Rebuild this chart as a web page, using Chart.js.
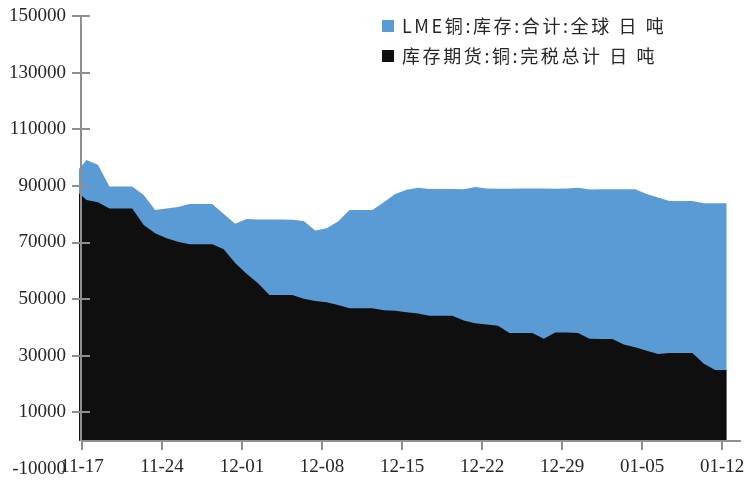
<!DOCTYPE html>
<html>
<head>
<meta charset="utf-8">
<script src="https://cdn.jsdelivr.net/npm/chart.js@4.4.1/dist/chart.umd.min.js"></script>
<style>
  body { margin: 0; background: #fff; }
  #wrap { width: 753px; height: 482px; }
</style>
</head>
<body>
<div id="wrap"><canvas id="stockChart" width="753" height="482"></canvas></div>
<script>
const dates = [
  '11-16', '11-17', '11-18', '11-19', '11-20', '11-21', '11-22', '11-23', '11-24', '11-25',
  '11-26', '11-27', '11-28', '11-29', '11-30',
  '12-01', '12-02', '12-03', '12-04', '12-05', '12-06', '12-07', '12-08', '12-09', '12-10',
  '12-11', '12-12', '12-13', '12-14', '12-15', '12-16', '12-17', '12-18', '12-19', '12-20',
  '12-21', '12-22', '12-23', '12-24', '12-25', '12-26', '12-27', '12-28', '12-29', '12-30', '12-31',
  '01-01', '01-02', '01-03', '01-04', '01-05', '01-06', '01-07', '01-08', '01-09', '01-10',
  '01-11', '01-12'
];

// LME铜 库存 合计 全球 (吨)
const lmeStock = [
  94300, 99150, 97500, 89750, 89750, 89750, 86800, 81500, 82000, 82500,
  83600, 83600, 83600, 80100, 76600,
  78300, 78100, 78100, 78100, 78000, 77600, 74200, 75000, 77400, 81500,
  81500, 81500, 84200, 87100, 88600, 89300, 88900, 88900, 88900, 88800,
  89600, 89100, 89000, 89000, 89100, 89100, 89100, 89000, 89100, 89300, 88700,
  88800, 88800, 88800, 88800, 87100, 85900, 84700, 84700, 84700, 83900,
  83900, 83900
];

// 库存期货 铜 完税总计 (吨)
const shfeStock = [
  88600, 85050, 84240, 82000, 82000, 82000, 76200, 73300, 71500, 70300,
  69400, 69400, 69400, 67650, 62800,
  59000, 55600, 51500, 51500, 51500, 50100, 49300, 48900, 47900, 46800,
  46800, 46800, 46100, 45900, 45400, 44900, 44100, 44100, 44100, 42450,
  41500, 41050, 40600, 38000, 38000, 38000, 36000, 38200, 38200, 38000, 36000,
  35900, 35900, 34000, 33000, 31800, 30600, 30950, 30950, 30950, 27200,
  25000, 25000
];

const xTickLabels = ['11-17', '11-24', '12-01', '12-08', '12-15', '12-22', '12-29', '01-05', '01-12'];
const yTicks = [-10000, 10000, 30000, 50000, 70000, 90000, 110000, 130000, 150000];

const seriesNames = ['LME铜:库存:合计:全球 日 吨', '库存期货:铜:完税总计 日 吨'];
const seriesColors = ['#5b9bd5', '#0f0f0f'];

// x is days counted from 11-17; each reading is plotted a little after its day mark
const SHIFT = 0.4;
const firstDay = -1; // dates[0] is the day before 11-17
const toPoints = vals => vals.map((v, i) => ({ x: firstDay + i + SHIFT, y: v }));

const axisColor = '#8f8f8f';
const textColor = '#262626';
const tickFont = '19px "Liberation Serif", "DejaVu Serif", serif';

const axesPlugin = {
  id: 'axes',
  afterDraw(chart) {
    const ctx = chart.ctx;
    const xs = chart.scales.x, ys = chart.scales.y;
    const ax = Math.round(xs.getPixelForValue(0)) - 1;
    const ay = Math.round(ys.getPixelForValue(0));
    const right = chart.chartArea.right;

    ctx.save();
    ctx.strokeStyle = axisColor;
    ctx.lineWidth = 2;
    ctx.beginPath();
    // vertical axis
    ctx.moveTo(ax, Math.round(ys.getPixelForValue(150000)));
    ctx.lineTo(ax, ay);
    // horizontal axis along zero
    ctx.moveTo(ax, ay);
    ctx.lineTo(right, ay);
    // y ticks cross the axis
    yTicks.forEach(v => {
      if (v <= 0) return;
      const py = Math.round(ys.getPixelForValue(v));
      ctx.moveTo(ax - 9, py);
      ctx.lineTo(ax + 9, py);
    });
    // x ticks hang below the axis
    xTickLabels.forEach((lab, k) => {
      const px = Math.round(xs.getPixelForValue(k * 7));
      ctx.moveTo(px, ay);
      ctx.lineTo(px, ay + 9);
    });
    ctx.stroke();

    ctx.fillStyle = textColor;
    ctx.font = tickFont;
    ctx.textAlign = 'right';
    ctx.textBaseline = 'middle';
    yTicks.forEach(v => {
      ctx.fillText(String(v), 66, ys.getPixelForValue(v));
    });
    ctx.textAlign = 'center';
    xTickLabels.forEach((lab, k) => {
      ctx.fillText(lab, xs.getPixelForValue(k * 7), ay + 26);
    });
    ctx.restore();
  }
};

const legendPlugin = {
  id: 'boxLegend',
  afterDraw(chart) {
    const ctx = chart.ctx;
    ctx.save();
    ctx.font = '18px "Noto Sans CJK SC"';
    ctx.letterSpacing = '2.6px';
    ctx.textBaseline = 'middle';
    ctx.textAlign = 'left';
    seriesNames.forEach((name, i) => {
      const top = 20 + i * 30;
      ctx.fillStyle = seriesColors[i];
      ctx.fillRect(382, top, 12, 12);
      ctx.fillStyle = textColor;
      ctx.fillText(name, 402, top + 6);
    });
    ctx.restore();
  }
};

new Chart(document.getElementById('stockChart'), {
  type: 'line',
  data: {
    datasets: [
      {
        label: seriesNames[1],
        data: toPoints(shfeStock),
        backgroundColor: seriesColors[1],
        borderColor: 'rgba(0,0,0,0)',
        fill: 'origin'
      },
      {
        label: seriesNames[0],
        data: toPoints(lmeStock),
        backgroundColor: seriesColors[0],
        borderColor: 'rgba(0,0,0,0)',
        fill: 'origin'
      }
    ]
  },
  options: {
    responsive: false,
    animation: false,
    layout: { padding: { left: 79, right: 12, top: 16, bottom: 13 } },
    elements: {
      point: { radius: 0 },
      line: { tension: 0, borderWidth: 0 }
    },
    plugins: {
      legend: { display: false },
      tooltip: { enabled: false }
    },
    scales: {
      x: { type: 'linear', min: -0.26, max: 57.65, display: false },
      y: { min: -10000, max: 150000, display: false }
    }
  },
  plugins: [axesPlugin, legendPlugin]
});
</script>
</body>
</html>
